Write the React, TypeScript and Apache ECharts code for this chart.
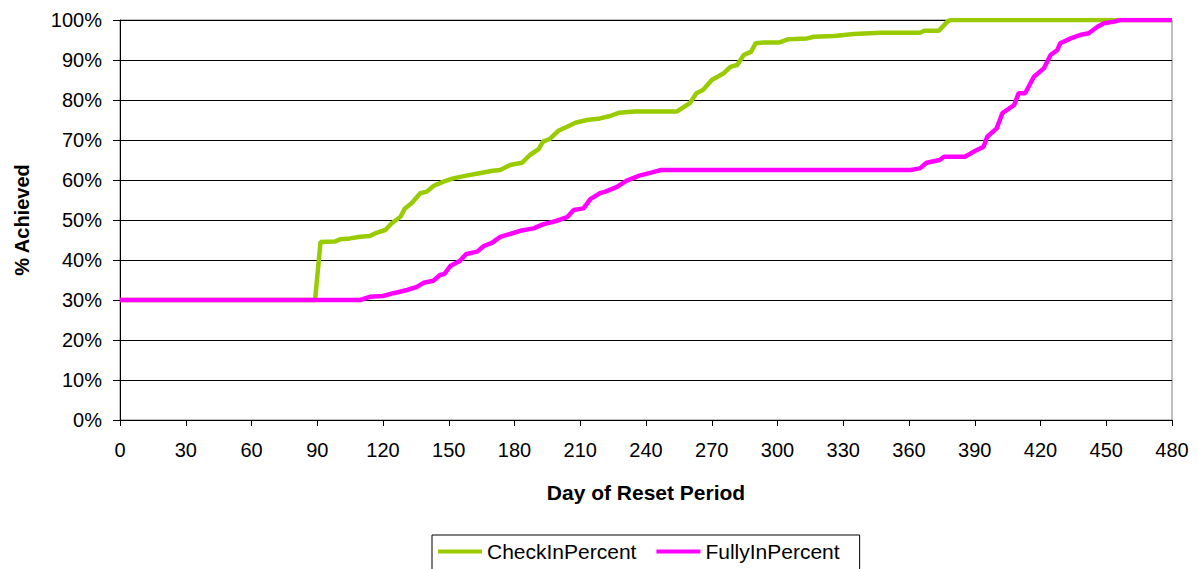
import React, { useEffect, useRef } from "react";
import * as echarts from "echarts";

const xTicks = { min: 0, max: 480, interval: 30 };
const yTicks = { min: 0, max: 100, interval: 10 };

const checkInPercent: [number, number][] = [
  [0, 30], [89, 30], [91.5, 44.5], [98, 44.6], [100.5, 45.2], [105, 45.4], [109.6, 45.8], [114, 46],
  [117, 46.8], [121, 47.5], [124, 49.2], [128, 50.8], [130, 52.9], [133, 54.2], [137, 56.7], [140, 57.1],
  [143, 58.5], [147.6, 59.6], [152, 60.4], [158, 61.1], [164, 61.7], [170, 62.3], [173.5, 62.5],
  [178, 63.75], [183.4, 64.3], [187, 66.25], [191, 67.7], [193, 69.6], [196, 70.2], [200, 72.3],
  [204, 73.3], [207.8, 74.3], [213, 75], [219, 75.4], [223.7, 76], [227.5, 76.8], [235, 77.1],
  [254, 77.1], [260, 79.2], [263, 81.7], [266, 82.5], [270, 85], [275.5, 86.7], [278.5, 88.3],
  [281.6, 88.75], [284.6, 91.25], [288, 92.1], [290, 94.2], [293.7, 94.4], [301, 94.4], [305, 95.2],
  [313.5, 95.4], [316.6, 95.8], [325.7, 96], [334.9, 96.5], [347, 96.8], [365, 96.8], [367, 97.3],
  [373.6, 97.3], [377.5, 99.6], [379, 100], [480, 100],
];

const fullyInPercent: [number, number][] = [
  [0, 30], [109.6, 30], [114, 30.8], [120, 31], [124.8, 31.7], [131, 32.5], [135.5, 33.3], [138.5, 34.3],
  [143, 34.8], [146, 36.25], [148, 36.5], [150.7, 38.5], [155, 39.75], [158, 41.5], [163, 42.1],
  [166, 43.5], [169.7, 44.3], [173.5, 45.8], [178, 46.5], [182.6, 47.3], [188.7, 47.9], [193, 48.9],
  [199, 49.75], [204, 50.7], [207, 52.5], [211.5, 52.9], [214.6, 55.2], [219, 56.7], [221.5, 57.1],
  [226.8, 58.3], [231, 59.8], [237, 61.1], [242.8, 61.9], [247, 62.5], [360.7, 62.5], [365, 62.9],
  [368, 64.3], [374, 65], [376, 65.8], [385.5, 65.8], [389.6, 67.1], [394, 68.3], [395.7, 70.8],
  [400, 72.9], [402.6, 76.7], [408, 78.75], [410, 81.7], [413, 81.7], [417, 85.8], [421.5, 87.9],
  [424.6, 91.25], [427.7, 92.5], [429, 94.2], [433.8, 95.4], [438, 96.25], [442, 96.7], [446, 98.3],
  [449, 99.2], [453.6, 99.6], [456.6, 100], [480, 100],
];

const FONT = "'Liberation Sans', Arial, sans-serif";

export default function App() {
  const ref = useRef<HTMLDivElement>(null);
  useEffect(() => {
    if (!ref.current) return;
    const chart = echarts.init(ref.current, null, { renderer: "svg" });
    chart.setOption({
      animation: false,
      backgroundColor: "#ffffff",
      textStyle: { fontFamily: FONT },
      grid: {
        left: 120,
        right: 26,
        top: 20,
        bottom: 149,
        show: true,
        borderColor: "#808080",
        borderWidth: 1,
        backgroundColor: "transparent",
      },
      legend: {
        data: ["CheckInPercent", "FullyInPercent"],
        left: 432,
        top: 535,
        borderColor: "#000",
        borderWidth: 1,
        padding: [6, 20, 14, 6],
        itemGap: 20,
        itemWidth: 44,
        itemHeight: 4,
        icon: "rect",
        textStyle: { fontFamily: FONT, fontSize: 21, color: "#000" },
      },
      xAxis: {
        type: "value",
        min: xTicks.min,
        max: xTicks.max,
        interval: xTicks.interval,
        name: "Day of Reset Period",
        nameLocation: "middle",
        nameGap: 62,
        nameTextStyle: { fontFamily: FONT, fontSize: 21, fontWeight: "bold", color: "#000" },
        axisLine: { show: true, lineStyle: { color: "#000", width: 1 } },
        axisTick: { show: true, length: 6, lineStyle: { color: "#000" } },
        axisLabel: { margin: 20, fontFamily: FONT, fontSize: 20, color: "#000" },
        splitLine: { show: false },
      },
      yAxis: {
        type: "value",
        min: yTicks.min,
        max: yTicks.max,
        interval: yTicks.interval,
        name: "% Achieved",
        nameLocation: "middle",
        nameRotate: 90,
        nameGap: 88,
        nameTextStyle: { fontFamily: FONT, fontSize: 20, fontWeight: "bold", color: "#000" },
        axisLine: { show: true, lineStyle: { color: "#000", width: 1 } },
        axisTick: { show: true, length: 7, lineStyle: { color: "#000" } },
        axisLabel: { margin: 18, fontFamily: FONT, fontSize: 20, color: "#000", formatter: "{value}%" },
        splitLine: { show: true, lineStyle: { color: "#000", width: 1 } },
      },
      series: [
        {
          name: "CheckInPercent",
          type: "line",
          data: checkInPercent,
          showSymbol: false,
          symbol: "none",
          color: "#99CC00",
          lineStyle: { color: "#99CC00", width: 4.5 },
        },
        {
          name: "FullyInPercent",
          type: "line",
          data: fullyInPercent,
          showSymbol: false,
          symbol: "none",
          color: "#FF00FF",
          lineStyle: { color: "#FF00FF", width: 4.5 },
        },
      ],
    });
    return () => chart.dispose();
  }, []);
  return (
    <div
      ref={ref}
      style={{ position: "fixed", left: 0, top: 0, width: 1198, height: 569, background: "#fff" }}
    />
  );
}
